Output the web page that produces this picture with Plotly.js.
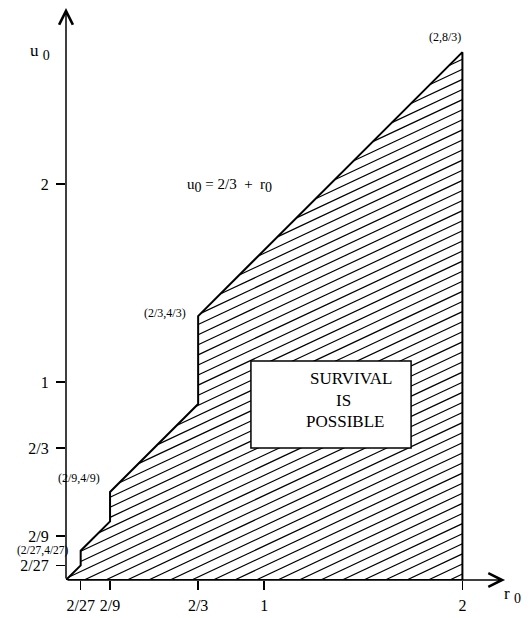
<!DOCTYPE html>
<html>
<head>
<meta charset="utf-8">
<script src="https://cdn.plot.ly/plotly-3.0.1.min.js"></script>
<style>html,body{margin:0;padding:0;background:#fff;}#chart{width:529px;height:618px;}</style>
</head>
<body>
<div id="chart"></div>
<script>
// Boundary of the "survival is possible" region (r0, u0)
const rVert = [0, 2/27, 2/27, 2/9, 2/9, 2/3, 2/3, 2, 2, 0];
const uVert = [0, 2/27, 4/27, 8/27, 4/9, 8/9, 4/3, 8/3, 0, 0];

// Labelled corner points
const labelR = [2/27, 2/9, 2/3, 2];
const labelU = [4/27, 4/9, 4/3, 8/3];
const labelText = ['(2/27,4/27)', '(2/9,4/9)', '(2/3,4/3)', '(2,8/3)'];

// Axis ticks
const xTickVals = [2/27, 2/9, 2/3, 1, 2];
const xTickText = ['2/27', '2/9', '2/3', '1', '2'];
const yTickVals = [2/27, 2/9, 2/3, 1, 2];
const yTickText = ['2/27', '2/9', '2/3', '1', '2'];

// Hatching (style): lines u = m r + c clipped to the region
function hatch(m, d, phase) {
  const xs = [], ys = [];
  const cMin = -2 * m - d, cMax = 8/3 + d;
  let k0 = Math.floor((cMin - phase) / d);
  for (let k = k0; phase + k * d <= cMax; k++) {
    const c = phase + k * d;
    const pts = [];
    for (let i = 0; i < rVert.length - 1; i++) {
      const px = rVert[i], py = uVert[i], qx = rVert[i+1], qy = uVert[i+1];
      const fp = py - m * px - c, fq = qy - m * qx - c;
      if (fp === fq) continue;
      if (fp * fq <= 0) {
        const t = fp / (fp - fq);
        pts.push([px + t * (qx - px), py + t * (qy - py)]);
      }
    }
    if (pts.length >= 2) {
      let a = pts[0], b = pts[0];
      pts.forEach(p => { if (p[0] < a[0]) a = p; if (p[0] > b[0]) b = p; });
      if (b[0] - a[0] > 1e-6) {
        xs.push(a[0], b[0], null);
        ys.push(a[1], b[1], null);
      }
    }
  }
  return {xs, ys};
}
const hm = 0.47, hd = 0.051;
const h = hatch(hm, hd, 0.591 - 2 * hm);

const serif = 'Liberation Serif, Times New Roman, serif';
const sub0 = '<sub><span style="font-size:14px">0</span></sub>';

const traces = [
  {x: h.xs, y: h.ys, mode: 'lines', line: {color: 'black', width: 1.2}, hoverinfo: 'skip', connectgaps: false},
  {x: rVert, y: uVert, mode: 'lines', line: {color: 'black', width: 2}, hoverinfo: 'skip'}
];

const shifts = [[-10, 0, 'right'], [-8, 14, 'right'], [-10, 3, 'right'], [-17, 15, 'center']];
const annotations = labelText.map((t, i) => ({
  x: labelR[i], y: labelU[i], xref: 'x', yref: 'y', text: t, showarrow: false,
  xanchor: shifts[i][2], yanchor: 'middle', xshift: shifts[i][0], yshift: shifts[i][1],
  font: {family: serif, size: i === 0 ? 11.5 : 12, color: 'black'}
}));

annotations.push(
  // axis arrows
  {x: 0, y: 2.89, ax: 0, ay: 0, xref: 'x', yref: 'y', axref: 'x', ayref: 'y', text: '',
   showarrow: true, arrowhead: 5, arrowsize: 1.8, arrowwidth: 1.5, arrowcolor: 'black', standoff: 0},
  {x: 2.215, y: 0, ax: 0, ay: 0, xref: 'x', yref: 'y', axref: 'x', ayref: 'y', text: '',
   showarrow: true, arrowhead: 5, arrowsize: 1.8, arrowwidth: 1.5, arrowcolor: 'black', standoff: 0},
  // boundary formula
  {x: 0.60, y: 1.995, xref: 'x', yref: 'y', xanchor: 'left', yanchor: 'middle', showarrow: false,
   text: 'u' + sub0 + ' = 2/3  +  r' + sub0, font: {family: serif, size: 15, color: 'black'}},
  // axis names
  {x: -0.058, y: 0.914, xref: 'paper', yref: 'paper', xanchor: 'center', yanchor: 'middle', showarrow: false,
   text: 'u ' + sub0, font: {family: serif, size: 17, color: 'black'}},
  {x: 1.01, y: -0.026, xref: 'paper', yref: 'paper', xanchor: 'center', yanchor: 'middle', showarrow: false,
   text: 'r ' + sub0, font: {family: serif, size: 17, color: 'black'}},
  // box text
  {x: 1.438, y: 1.020, xref: 'x', yref: 'y', showarrow: false, text: 'SURVIVAL', font: {family: serif, size: 17, color: 'black'}},
  {x: 1.398, y: 0.909, xref: 'x', yref: 'y', showarrow: false, text: 'IS', font: {family: serif, size: 17, color: 'black'}},
  {x: 1.408, y: 0.803, xref: 'x', yref: 'y', showarrow: false, text: 'POSSIBLE', font: {family: serif, size: 17, color: 'black'}}
);

const axisCommon = {
  ticks: 'outside', ticklen: 9, tickwidth: 1.5, tickcolor: 'black',
  showgrid: false, zeroline: false, showline: false, fixedrange: true,
  tickfont: {family: serif, size: 16, color: 'black'}
};

const layout = {
  width: 529, height: 618,
  margin: {l: 66, r: 21, t: 2, b: 38},
  paper_bgcolor: 'white', plot_bgcolor: 'white',
  showlegend: false,
  xaxis: Object.assign({}, axisCommon, {range: [0, 2.23], tickvals: xTickVals, ticktext: xTickText, ticklabelstandoff: 2}),
  yaxis: Object.assign({}, axisCommon, {range: [0, 2.92], tickvals: yTickVals, ticktext: yTickText, ticklabelstandoff: 4}),
  shapes: [{type: 'rect', xref: 'x', yref: 'y', x0: 0.933, x1: 1.741, y0: 0.667, y1: 1.106,
            fillcolor: 'white', line: {color: 'black', width: 1.5}, layer: 'above'}],
  annotations: annotations
};

Plotly.newPlot('chart', traces, layout, {displayModeBar: false, staticPlot: true});
</script>
</body>
</html>
